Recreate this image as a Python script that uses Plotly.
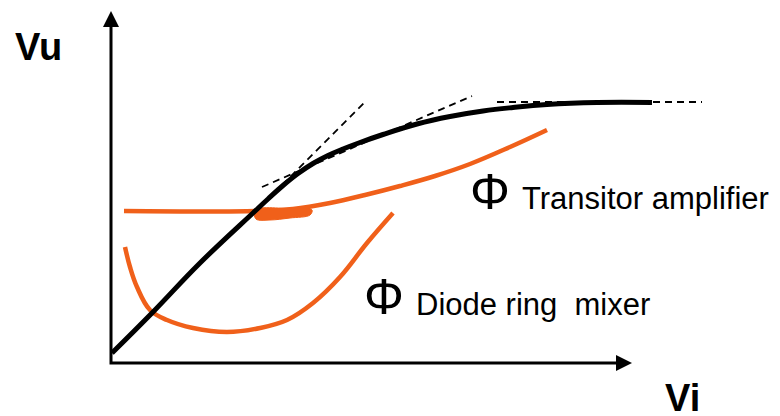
import plotly.graph_objects as go

# transfer curve Vu(Vi), black
curve_x = [1, 42, 89, 142, 157, 172, 187, 202, 217, 232, 249, 272, 306, 339, 372, 402, 436, 486, 541]
curve_y = [10, 51, 100, 150, 164, 177.5, 189.5, 199.5, 207.5, 214, 220.5, 228.5, 239, 246.5, 252,
           255.5, 258.5, 260.5, 260.5]

# phase curve of the transistor amplifier, orange
amp_x = [13, 146, 182, 219, 254, 289, 324, 359, 399, 436]
amp_y = [152, 152, 154, 160, 168, 177, 187, 199, 216, 233]
# thick kink where it leaves the flat part
blob_x = [144, 145, 159, 179, 199, 201, 184, 144]
blob_y = [153, 144, 143, 145, 148, 153, 154, 153]

# phase curve of the diode ring mixer, orange
mix_x = [14, 19, 26, 39, 56, 82, 116, 149, 176, 202, 229, 256, 282]
mix_y = [116, 96, 76, 53, 43, 35, 31, 35, 43, 60, 86, 120, 150]

# dashed tangents
tangents = [
    ([171, 254], [178, 261]),
    ([151, 361], [176, 267]),
    ([386, 591], [261, 261]),
]

x_end = 505
y_end = 336
head = 16

orange = "#F0601A"
font = "Liberation Sans, Arial, sans-serif"

fig = go.Figure()

for tx, ty in tangents:
    fig.add_trace(go.Scatter(x=tx, y=ty, mode="lines",
                             line=dict(color="black", width=1.8, dash="7px,5px")))

fig.add_trace(go.Scatter(x=mix_x, y=mix_y, mode="lines",
                         line=dict(color=orange, width=4.5, shape="spline", smoothing=1.1)))
fig.add_trace(go.Scatter(x=amp_x, y=amp_y, mode="lines",
                         line=dict(color=orange, width=4.5, shape="spline", smoothing=1.1)))
fig.add_trace(go.Scatter(x=blob_x, y=blob_y, mode="lines", fill="toself",
                         fillcolor=orange, line=dict(color=orange, width=1),
                         line_shape="spline"))
fig.add_trace(go.Scatter(x=curve_x, y=curve_y, mode="lines",
                         line=dict(color="black", width=5, shape="spline", smoothing=1.2)))

# axes with arrows
fig.add_trace(go.Scatter(x=[0, 0, x_end], y=[y_end, 0, 0], mode="lines",
                         line=dict(color="black", width=3)))
fig.add_shape(type="path", xref="x", yref="y", fillcolor="black", line_width=0,
              path=f"M {-head/2},{y_end} L {head/2},{y_end} L 0,{y_end + head} Z")
fig.add_shape(type="path", xref="x", yref="y", fillcolor="black", line_width=0,
              path=f"M {x_end},{-head/2} L {x_end},{head/2} L {x_end + head},0 Z")

fig.add_annotation(x=-72.5, y=316.5, text="<b>Vu</b>", showarrow=False,
                   font=dict(size=38, color="black", family=font))
fig.add_annotation(x=571.5, y=-34.5, text="<b>Vi</b>", showarrow=False,
                   font=dict(size=38, color="black", family=font))

fig.add_annotation(x=378.5, y=171, text="Φ", showarrow=False,
                   font=dict(size=50, color="black", family=font))
fig.add_annotation(x=409, y=164.5, text="Transitor amplifier", showarrow=False,
                   xanchor="left", font=dict(size=31, color="black", family=font))
fig.add_annotation(x=272.5, y=66.5, text="Φ", showarrow=False,
                   font=dict(size=50, color="black", family=font))
fig.add_annotation(x=303, y=58.5, text="Diode ring\u00a0 mixer", showarrow=False,
                   xanchor="left", font=dict(size=31, color="black", family=font))

# the page puts the figure 8px in from the top-left corner
fig.update_xaxes(range=[-103, 669], visible=False)
fig.update_yaxes(range=[-53, 355], visible=False)
fig.update_layout(width=772, height=408, margin=dict(l=0, r=0, t=0, b=0),
                  plot_bgcolor="white", paper_bgcolor="white", showlegend=False)

fig.write_html("out.html")
